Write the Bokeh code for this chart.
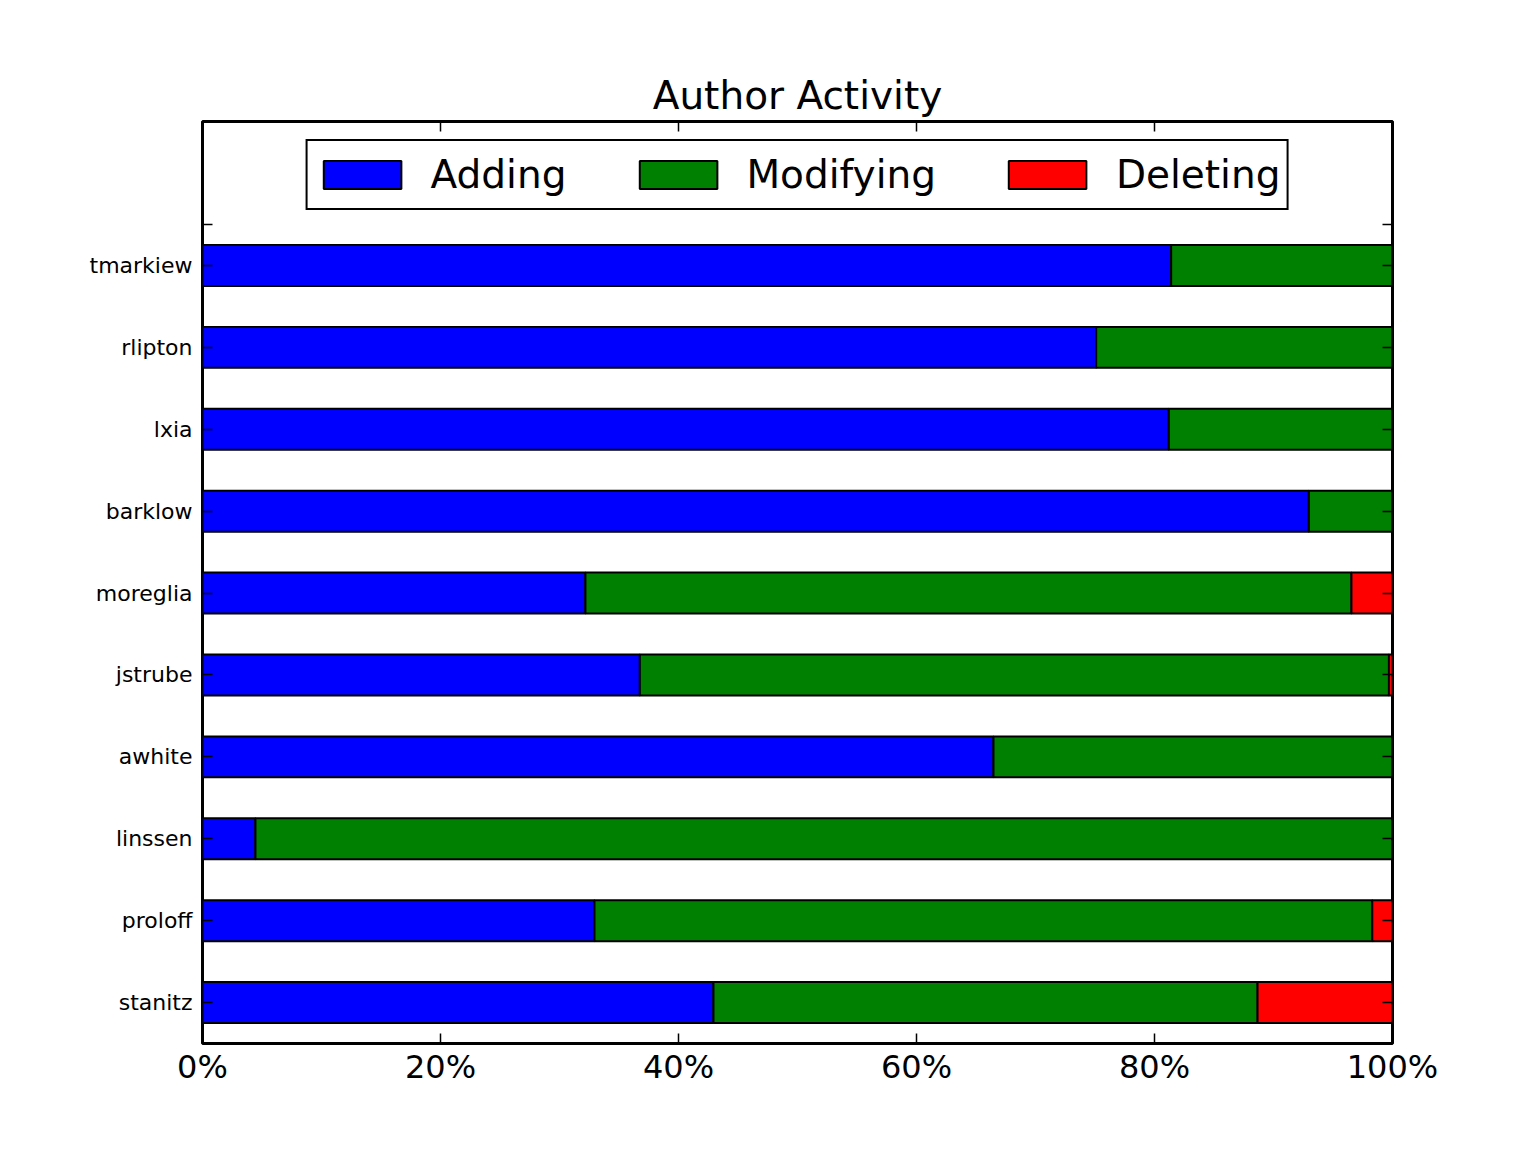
from bokeh.plotting import figure
from bokeh.models import (Range1d, LinearAxis, FixedTicker, NumeralTickFormatter,
                          Legend, LegendItem, ColumnDataSource, CustomJSTickFormatter)
from bokeh.embed import file_html
from bokeh.resources import INLINE

# ---- data (bottom to top) ----
authors = ["stanitz", "proloff", "linssen", "awhite", "jstrube",
           "moreglia", "barklow", "lxia", "rlipton", "tmarkiew"]
adding = [0.4294, 0.3294, 0.0445, 0.6647, 0.3675, 0.3218, 0.9297, 0.8120, 0.7510, 0.8140]
modifying = [0.4572, 0.6536, 0.9555, 0.3353, 0.6295, 0.6437, 0.0703, 0.1880, 0.2490, 0.1860]
deleting = [0.1134, 0.0170, 0.0000, 0.0000, 0.0030, 0.0345, 0.0000, 0.0000, 0.0000, 0.0000]
x_ticks = [0.0, 0.2, 0.4, 0.6, 0.8, 1.0]
series_names = ["Adding", "Modifying", "Deleting"]
series_colors = ["#0000ff", "#008000", "#ff0000"]

ys = list(range(len(authors)))
a_end = adding
m_end = [a + m for a, m in zip(adding, modifying)]
d_end = [a + m + d for a, m, d in zip(adding, modifying, deleting)]

src = ColumnDataSource(dict(y=ys, zero=[0.0] * len(ys), a_end=a_end, m_end=m_end, d_end=d_end))

FONT = "DejaVu Sans"

p = figure(width=1510, height=1136, output_backend="svg", toolbar_location=None,
           x_range=Range1d(0, 1), y_range=Range1d(-0.5, 10.758),
           min_border_left=202, min_border_right=118, min_border_top=121, min_border_bottom=93)

p.background_fill_color = "white"
p.border_fill_color = "white"
p.outline_line_color = "black"
p.outline_line_width = 3
p.xgrid.visible = False
p.ygrid.visible = False

r1 = p.hbar(y="y", left="zero", right="a_end", height=0.5, source=src,
            fill_color=series_colors[0], line_color="black", line_width=2)
r2 = p.hbar(y="y", left="a_end", right="m_end", height=0.5, source=src,
            fill_color=series_colors[1], line_color="black", line_width=2)
r3 = p.hbar(y="y", left="m_end", right="d_end", height=0.5, source=src,
            fill_color=series_colors[2], line_color="black", line_width=2)

# title
p.title.text = "Author Activity"
p.title.align = "center"
p.title.text_font = FONT
p.title.text_font_size = "39px"
p.title.text_font_style = "normal"
p.title.text_color = "black"
p.title.standoff = 7

# bottom x axis
xa = p.xaxis[0]
xa.ticker = FixedTicker(ticks=x_ticks)
xa.formatter = NumeralTickFormatter(format="0%")
xa.major_label_text_font = FONT
xa.major_label_text_font_size = "32px"
xa.major_label_text_color = "black"
xa.major_tick_in = 10
xa.major_tick_out = 0
xa.major_tick_line_width = 1.5
xa.minor_tick_line_color = None
xa.axis_line_color = None
xa.major_label_standoff = 4

# left y axis
y_ticks = ys + [len(authors) - 0.5]
overrides = {i: name for i, name in enumerate(authors)}
overrides[len(authors) - 0.5] = ""
ya = p.yaxis[0]
ya.ticker = FixedTicker(ticks=y_ticks)
ya.major_label_overrides = overrides
ya.major_label_text_font = FONT
ya.major_label_text_font_size = "22px"
ya.major_label_text_color = "black"
ya.major_tick_in = 10
ya.major_tick_out = 0
ya.major_tick_line_width = 1.5
ya.minor_tick_line_color = None
ya.axis_line_color = None
ya.major_label_standoff = 10

blank = CustomJSTickFormatter(code="return ''")

top_ax = LinearAxis(ticker=FixedTicker(ticks=x_ticks), formatter=blank,
                    major_tick_in=10, major_tick_out=0, major_tick_line_width=1.5,
                    minor_tick_line_color=None, axis_line_color=None,
                    major_label_standoff=0, major_label_text_font_size="1px")
p.add_layout(top_ax, "above")

right_ax = LinearAxis(ticker=FixedTicker(ticks=y_ticks), formatter=blank,
                      major_tick_in=10, major_tick_out=0, major_tick_line_width=1.5,
                      minor_tick_line_color=None, axis_line_color=None,
                      major_label_standoff=0, major_label_text_font_size="1px")
p.add_layout(right_ax, "right")

# legend
legend = Legend(items=[LegendItem(label=series_names[0], renderers=[r1]),
                       LegendItem(label=series_names[1], renderers=[r2]),
                       LegendItem(label=series_names[2], renderers=[r3])],
                orientation="horizontal", location="top_center", margin=18,
                glyph_width=97, glyph_height=35, label_standoff=20, spacing=63,
                padding=6, label_height=55, label_text_font=FONT,
                label_text_font_size="39px",
                label_text_color="black", border_line_color="black",
                border_line_alpha=1.0, border_line_width=2.5,
                background_fill_color="white", background_fill_alpha=1.0)
p.add_layout(legend)

open("out.html", "w").write(file_html(p, INLINE))
